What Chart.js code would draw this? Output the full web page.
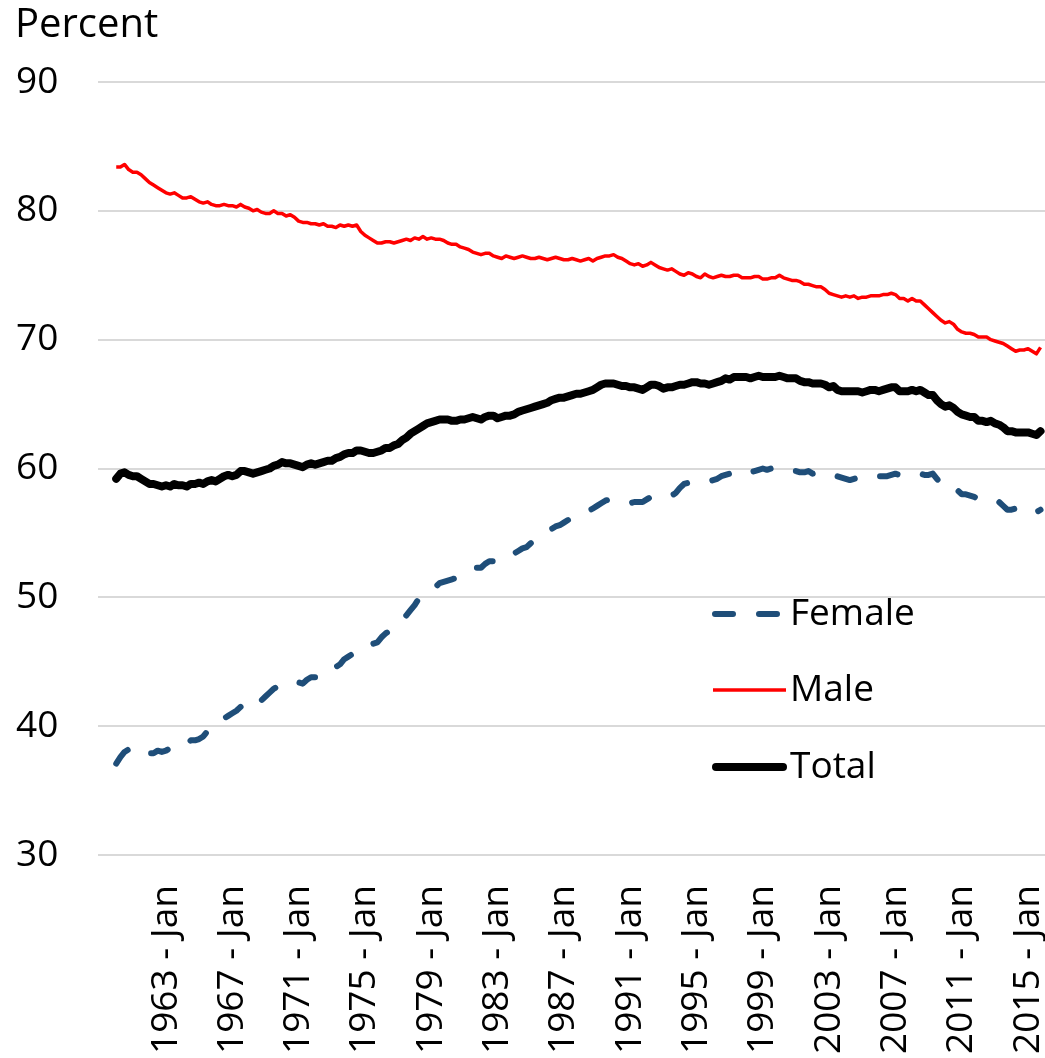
<!DOCTYPE html>
<html><head><meta charset="utf-8">
<script src="https://cdn.jsdelivr.net/npm/chart.js@4.4.0/dist/chart.umd.min.js"></script>
<style>html,body{margin:0;padding:0;background:#fff;}#wrap{width:1045px;height:1058px;}</style>
</head><body><div id="wrap"><canvas id="c" width="1045" height="1058"></canvas></div>
<script>
// Quarterly values, 1960 Q1 .. 2015 Q4 (one row per year)
const startYear = 1960;
const tickYears = [1963, 1967, 1971, 1975, 1979, 1983, 1987, 1991, 1995, 1999, 2003, 2007, 2011, 2015];
const seriesNames = ["Female", "Male", "Total"];

const female = [
37.1,37.6,38.0,38.2, 38.1,38.1,38.3,38.1, 37.9,37.9,38.1,38.0, 38.1,38.3,38.5,38.6,
38.5,38.6,38.9,38.9, 39.0,39.2,39.6,39.8, 40.0,40.2,40.6,40.8, 41.0,41.2,41.5,41.7,
41.4,41.6,41.8,42.0, 42.3,42.6,42.9,43.1, 43.3,43.4,43.5,43.4, 43.4,43.3,43.6,43.8,
43.8,43.8,44.0,44.0, 44.3,44.6,44.8,45.2, 45.4,45.6,45.9,45.9, 46.0,46.2,46.4,46.5,
46.9,47.2,47.4,47.8, 48.0,48.3,48.6,49.0, 49.4,49.9,50.2,50.4, 50.6,50.8,51.1,51.2,
51.3,51.4,51.5,51.6, 51.8,52.1,52.2,52.3, 52.3,52.6,52.8,52.8, 52.7,52.8,53.0,53.2,
53.4,53.6,53.8,53.9, 54.2,54.4,54.6,54.8, 55.0,55.3,55.5,55.6, 55.8,56.0,56.1,56.2,
56.4,56.5,56.7,56.9, 57.1,57.3,57.5,57.6, 57.5,57.5,57.4,57.4, 57.3,57.4,57.4,57.4,
57.6,57.8,57.9,57.8, 57.8,57.8,57.9,58.1, 58.5,58.8,58.9,59.0, 58.9,58.9,58.9,59.0,
59.1,59.2,59.4,59.5, 59.6,59.8,59.8,59.9, 59.8,59.7,59.8,59.9, 60.0,59.9,60.0,60.1,
60.0,59.9,59.8,59.8, 59.8,59.7,59.7,59.8, 59.6,59.7,59.7,59.7, 59.6,59.6,59.4,59.3,
59.2,59.1,59.2,59.3, 59.2,59.3,59.4,59.4, 59.4,59.4,59.4,59.5, 59.6,59.5,59.4,59.4,
59.5,59.5,59.6,59.5, 59.5,59.6,59.2,58.8, 58.5,58.6,58.5,58.3, 58.0,58.0,57.9,57.8,
57.6,57.6,57.7,57.6, 57.5,57.4,57.1,56.8, 56.8,56.9,57.0,56.8, 56.8,56.8,56.6,56.8
];

const male = [
83.4,83.4,83.6,83.2, 83.0,83.0,82.8,82.5, 82.2,82.0,81.8,81.6, 81.4,81.3,81.4,81.2,
81.0,81.0,81.1,80.9, 80.7,80.6,80.7,80.5, 80.4,80.4,80.5,80.4, 80.4,80.3,80.5,80.3,
80.2,80.0,80.1,79.9, 79.8,79.8,80.0,79.8, 79.8,79.6,79.7,79.5, 79.2,79.1,79.1,79.0,
79.0,78.9,79.0,78.8, 78.8,78.7,78.9,78.8, 78.9,78.8,78.9,78.4, 78.1,77.9,77.7,77.5,
77.5,77.6,77.6,77.5, 77.6,77.7,77.8,77.7, 77.9,77.8,78.0,77.8, 77.9,77.8,77.8,77.7,
77.5,77.4,77.4,77.2, 77.1,77.0,76.8,76.7, 76.6,76.7,76.7,76.5, 76.4,76.3,76.5,76.4,
76.3,76.4,76.5,76.4, 76.3,76.3,76.4,76.3, 76.2,76.3,76.4,76.3, 76.2,76.2,76.3,76.2,
76.1,76.2,76.3,76.1, 76.3,76.4,76.5,76.5, 76.6,76.4,76.3,76.1, 75.9,75.8,75.9,75.7,
75.8,76.0,75.8,75.6, 75.5,75.4,75.5,75.3, 75.1,75.0,75.2,75.1, 74.9,74.8,75.1,74.9,
74.8,74.9,75.0,74.9, 74.9,75.0,75.0,74.8, 74.8,74.8,74.9,74.9, 74.7,74.7,74.8,74.8,
75.0,74.8,74.7,74.6, 74.6,74.5,74.3,74.3, 74.2,74.1,74.1,73.9, 73.6,73.5,73.4,73.3,
73.4,73.3,73.4,73.2, 73.3,73.3,73.4,73.4, 73.4,73.5,73.5,73.6, 73.5,73.2,73.2,73.0,
73.2,73.0,73.0,72.7, 72.4,72.1,71.8,71.5, 71.3,71.4,71.2,70.8, 70.6,70.5,70.5,70.4,
70.2,70.2,70.2,70.0, 69.9,69.8,69.7,69.5, 69.3,69.1,69.2,69.2, 69.3,69.1,68.9,69.4
];

const total = [
59.2,59.6,59.7,59.5, 59.4,59.4,59.2,59.0, 58.8,58.8,58.7,58.6, 58.7,58.6,58.8,58.7,
58.7,58.6,58.8,58.8, 58.9,58.8,59.0,59.1, 59.0,59.2,59.4,59.5, 59.4,59.5,59.8,59.8,
59.7,59.6,59.7,59.8, 59.9,60.0,60.2,60.3, 60.5,60.4,60.4,60.3, 60.2,60.1,60.3,60.4,
60.3,60.4,60.5,60.6, 60.6,60.8,60.9,61.1, 61.2,61.2,61.4,61.4, 61.3,61.2,61.2,61.3,
61.4,61.6,61.6,61.8, 61.9,62.2,62.4,62.7, 62.9,63.1,63.3,63.5, 63.6,63.7,63.8,63.8,
63.8,63.7,63.7,63.8, 63.8,63.9,64.0,63.9, 63.8,64.0,64.1,64.1, 63.9,64.0,64.1,64.1,
64.2,64.4,64.5,64.6, 64.7,64.8,64.9,65.0, 65.1,65.3,65.4,65.5, 65.5,65.6,65.7,65.8,
65.8,65.9,66.0,66.1, 66.3,66.5,66.6,66.6, 66.6,66.5,66.4,66.4, 66.3,66.3,66.2,66.1,
66.3,66.5,66.5,66.4, 66.2,66.3,66.3,66.4, 66.5,66.5,66.6,66.7, 66.7,66.6,66.6,66.5,
66.6,66.7,66.8,67.0, 66.9,67.1,67.1,67.1, 67.1,67.0,67.1,67.2, 67.1,67.1,67.1,67.1,
67.2,67.1,67.0,67.0, 67.0,66.8,66.7,66.7, 66.6,66.6,66.6,66.5, 66.3,66.4,66.1,66.0,
66.0,66.0,66.0,66.0, 65.9,66.0,66.1,66.1, 66.0,66.1,66.2,66.3, 66.3,66.0,66.0,66.0,
66.1,66.0,66.1,65.9, 65.7,65.7,65.3,65.0, 64.8,64.9,64.7,64.4, 64.2,64.1,64.0,64.0,
63.7,63.7,63.6,63.7, 63.5,63.4,63.2,62.9, 62.9,62.8,62.8,62.8, 62.8,62.7,62.6,62.9
];

const FONT = "'Open Sans', sans-serif";
const toPoints = arr => arr.map((v, i) => ({ x: startYear + i / 4, y: v }));

const legendPlugin = {
  id: 'customLegend',
  afterDraw(chart) {
    const ctx = chart.ctx;
    ctx.save();
    // axis title
    ctx.fillStyle = '#000';
    ctx.font = "40px " + FONT;
    ctx.textAlign = 'left';
    ctx.textBaseline = 'alphabetic';
    ctx.fillText('Percent', 15, 37);
    // legend
    const rows = [
      { y: 614, x0: 715, x1: 784 },
      { y: 690, x0: 713, x1: 786 },
      { y: 767, x0: 716, x1: 783 }
    ];
    chart.data.datasets.forEach((ds, i) => {
      const r = rows[i];
      ctx.beginPath();
      ctx.strokeStyle = ds.borderColor;
      ctx.lineWidth = ds.borderWidth;
      ctx.lineCap = ds.borderCapStyle || 'butt';
      ctx.setLineDash(ds.borderDash || []);
      ctx.moveTo(r.x0, r.y);
      ctx.lineTo(r.x1, r.y);
      ctx.stroke();
      ctx.setLineDash([]);
      ctx.fillStyle = '#000';
      ctx.font = "37px " + FONT;
      ctx.textBaseline = 'middle';
      ctx.fillText(ds.label, 790, r.y);
    });
    ctx.restore();
  }
};

new Chart(document.getElementById('c'), {
  type: 'line',
  data: {
    datasets: [
      { label: seriesNames[0], data: toPoints(female), borderColor: '#1F4E79', borderWidth: 6,
        borderDash: [18, 26], borderCapStyle: 'round', borderJoinStyle: 'round' },
      { label: seriesNames[1], data: toPoints(male), borderColor: '#FF0000', borderWidth: 3.5,
        borderCapStyle: 'butt', borderJoinStyle: 'round' },
      { label: seriesNames[2], data: toPoints(total), borderColor: '#000000', borderWidth: 8,
        borderCapStyle: 'round', borderJoinStyle: 'round' }
    ]
  },
  options: {
    responsive: false,
    devicePixelRatio: 1,
    animation: false,
    layout: { padding: { left: 16, top: 82, right: 0, bottom: 0 } },
    elements: { point: { radius: 0 }, line: { tension: 0 } },
    plugins: { legend: { display: false }, tooltip: { enabled: false } },
    scales: {
      x: {
        type: 'linear',
        min: 1958.9,
        max: 2016.02,
        grid: { display: false, drawTicks: false },
        border: { display: false },
        ticks: {
          autoSkip: false, minRotation: 90, maxRotation: 90, padding: 30,
          color: '#000', font: { family: FONT, size: 37 },
          callback: v => v + ' - Jan'
        },
        afterBuildTicks: s => { s.ticks = tickYears.map(v => ({ value: v })); },
        afterFit: s => { s.height = 203; s.paddingLeft = 0; s.paddingRight = 0; }
      },
      y: {
        min: 30, max: 90,
        grid: { color: '#d9d9d9', lineWidth: 2, drawTicks: false },
        border: { display: false },
        ticks: { stepSize: 10, crossAlign: 'far', color: '#000', font: { family: FONT, size: 37 } },
        afterFit: s => { s.width = 82; }
      }
    }
  },
  plugins: [legendPlugin]
});
</script>
</body></html>
